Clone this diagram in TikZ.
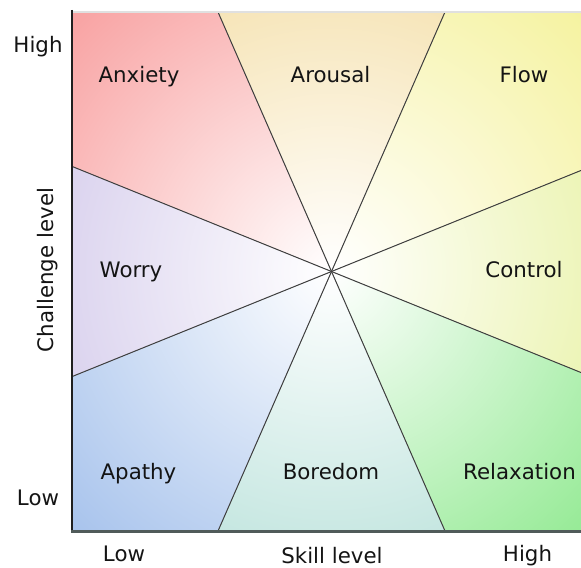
\documentclass[tikz,border=0pt]{standalone}
\usepackage{fontspec}
\setmainfont{DejaVu Sans}
\usepackage{tikz}

\definecolor{anxietycol}{HTML}{F8A0A0}
\definecolor{arousalcol}{HTML}{F6E4B6}
\definecolor{flowcol}{HTML}{F5F29E}
\definecolor{controlcol}{HTML}{ECF4B4}
\definecolor{relaxcol}{HTML}{94EA94}
\definecolor{boredomcol}{HTML}{C4E6E0}
\definecolor{apathycol}{HTML}{A6C2EC}
\definecolor{worrycol}{HTML}{DAD2EE}
\definecolor{axiscol}{HTML}{505B5A}

\tikzset{
  zone/.style={inner color=white, outer color=#1},
  divider/.style={draw=black!75, line width=0.75pt},
  zonelabel/.style={anchor=base, text=black!92, font=\fontsize{16pt}{19pt}\selectfont},
}

\begin{document}
\begin{tikzpicture}[x=0.75pt, y=-0.75pt]
  \useasboundingbox (0,0) rectangle (581,567);

  % corners and edge points
  \coordinate (c) at (331.5,271.5);
  \coordinate (nw) at (71,12);
  \coordinate (ne) at (592,12);
  \coordinate (se) at (592,531);
  \coordinate (sw) at (71,531);
  \coordinate (n1) at (218,12);
  \coordinate (n2) at (445,12);
  \coordinate (s1) at (218,531);
  \coordinate (s2) at (445,531);
  \coordinate (w1) at (71,166);
  \coordinate (w2) at (71,377);
  \coordinate (e1) at (592,166);
  \coordinate (e2) at (592,377);

  \begin{scope}
    \clip (71,12) rectangle (581,531);
    \begin{scope}
      \clip (c) -- (w1) -- (nw) -- (n1) -- cycle;
      \fill[zone=anxietycol] (c) circle (375);
    \end{scope}
    \begin{scope}
      \clip (c) -- (n1) -- (n2) -- cycle;
      \fill[zone=arousalcol] (c) circle (292);
    \end{scope}
    \begin{scope}
      \clip (c) -- (n2) -- (ne) -- (e1) -- cycle;
      \fill[zone=flowcol] (c) circle (368);
    \end{scope}
    \begin{scope}
      \clip (c) -- (e1) -- (e2) -- cycle;
      \fill[zone=controlcol] (c) circle (280);
    \end{scope}
    \begin{scope}
      \clip (c) -- (e2) -- (se) -- (s2) -- cycle;
      \fill[zone=relaxcol] (c) circle (368);
    \end{scope}
    \begin{scope}
      \clip (c) -- (s2) -- (s1) -- cycle;
      \fill[zone=boredomcol] (c) circle (290);
    \end{scope}
    \begin{scope}
      \clip (c) -- (s1) -- (sw) -- (w2) -- cycle;
      \fill[zone=apathycol] (c) circle (375);
    \end{scope}
    \begin{scope}
      \clip (c) -- (w2) -- (w1) -- cycle;
      \fill[zone=worrycol] (c) circle (288);
    \end{scope}

    \draw[divider] (n1) -- (s2);
    \draw[divider] (n2) -- (s1);
    \draw[divider] (w1) -- (e2);
    \draw[divider] (w2) -- (e1);
  \end{scope}

  % axes
  \draw[black!12, line width=1.5pt] (nw) -- (581,12);
  \draw[black!88, line width=1.5pt] (71.5,10) -- (71.5,531);
  \draw[axiscol, line width=2.25pt] (71,531) -- (581,531);

  % zone names
  \node[zonelabel] (anxiety) at (139,83) {Anxiety};
  \node[zonelabel] (arousal) at (330.5,83) {Arousal};
  \node[zonelabel] (flow) at (524,83) {Flow};
  \node[zonelabel] (worry) at (131,277) {Worry};
  \node[zonelabel] (control) at (524,277) {Control};
  \node[zonelabel] (apathy) at (138.5,479) {Apathy};
  \node[zonelabel] (boredom) at (331,479) {Boredom};
  \node[zonelabel] (relax) at (519.5,479) {Relaxation};

  % axis labels
  \node[zonelabel] (yhigh) at (38,53) {High};
  \node[zonelabel] (ylow) at (38,505.5) {Low};
  \node[zonelabel, rotate=90] (ytitle) at (53.5,270) {Challenge level};
  \node[zonelabel] (xlow) at (124,561.5) {Low};
  \node[zonelabel] (xtitle) at (332,563) {Skill level};
  \node[zonelabel] (xhigh) at (527.5,561.5) {High};
\end{tikzpicture}
\end{document}
